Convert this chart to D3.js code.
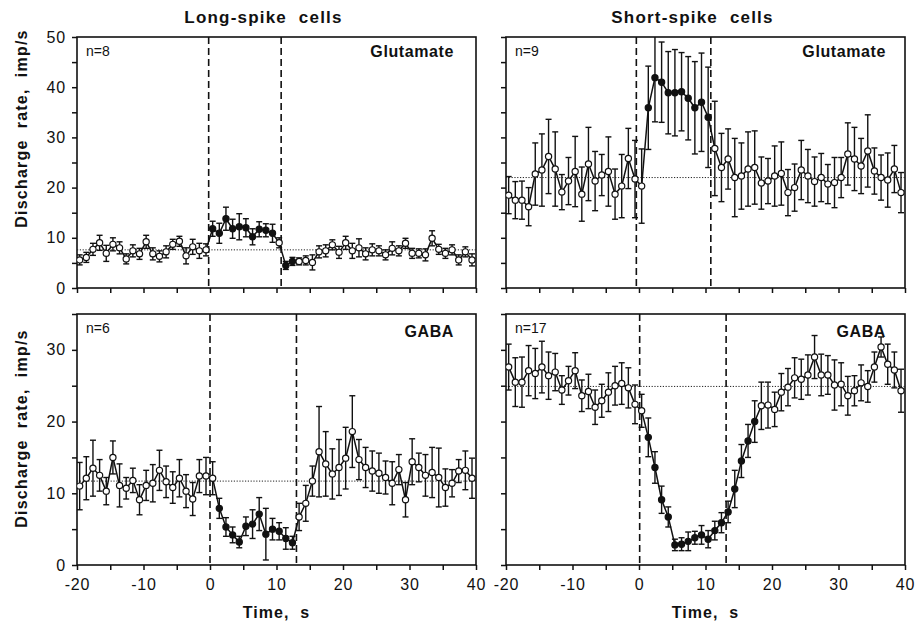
<!DOCTYPE html>
<html>
<head>
<meta charset="utf-8">
<script src="https://cdn.jsdelivr.net/npm/d3@7"></script>
<style>
  body { margin: 0; background: #fff; }
  svg text { font-family: "Liberation Sans", Arial, Helvetica, sans-serif; fill: #111; }
  .axis path, .axis line { stroke: #111; stroke-width: 1.5; }
  .axis text { font-size: 16px; letter-spacing: 0.8px; fill: #111; }
</style>
</head>
<body>
<div id="chart"></div>
<script>

// time bins (s), one per second
var timeBins = d3.range(-19.6, 40, 1)

// Long-spike cells, glutamate (n=8)
var lsGluMean = [5.6,6.1,7.7,9.0,6.9,8.7,8.0,5.8,7.4,6.8, 9.2,6.8,6.3,7.2,8.7,9.3,6.4,8.2,7.4,7.6,
  11.8,10.9,13.8,11.8,12.2,12.0,10.2,11.7,11.5,10.9, 9.0,4.5,5.3,5.3,5.5,5.1,7.2,7.4,8.6,7.1,
  9.0,7.4,8.0,6.8,7.6,7.4,6.6,7.9,7.4,8.9, 6.9,6.9,6.6,9.9,7.7,6.9,7.6,5.6,7.2,5.6]
var lsGluErr = [1.0,1.0,1.2,1.5,1.6,1.3,1.2,1.0,1.2,1.1, 1.3,1.2,1.1,1.2,1.0,1.0,1.6,1.5,1.5,1.2,
  1.5,2.0,2.3,1.9,2.6,1.8,1.6,1.5,1.3,1.8, 1.0,0.8,0.8,0.7,0.9,1.5,1.2,1.2,1.0,1.2,
  1.3,1.5,1.8,1.2,1.2,1.0,1.0,1.3,1.0,1.0, 1.0,0.9,1.2,1.5,1.0,1.0,1.0,1.0,1.0,1.2]
var lsGluFilled = [20,21,22,23,24,25,26,27,28,29,31,32]

// Short-spike cells, glutamate (n=9)
var ssGluMean = [18.5,17.5,17.5,16.2,22.7,23.5,26.2,23.7,19.1,21.3, 23.2,18.7,24.7,21.3,22.5,23.2,18.7,20.3,25.8,21.7,
  20.3,35.9,41.9,41.0,38.9,38.9,39.1,37.8,35.9,37.0, 34.0,27.8,24.0,25.7,22.0,22.3,23.7,24.0,20.9,21.3,
  22.3,22.8,19.0,20.0,23.5,22.3,21.2,22.0,20.7,21.0, 22.0,26.7,25.7,24.3,27.3,23.3,22.0,21.5,23.7,19.0]
var ssGluErr = [3.7,3.7,3.8,3.8,6.2,7.2,7.4,7.4,3.5,4.7, 7.0,5.4,7.3,5.9,4.1,6.9,5.0,6.3,6.0,7.7,
  7.4,8.3,8.8,8.0,8.2,8.6,7.8,8.3,9.2,9.8, 10.0,9.4,6.8,6.0,7.8,6.6,7.4,7.3,5.2,4.5,
  6.0,6.3,4.6,4.7,5.9,5.3,4.9,4.8,3.9,5.0, 4.0,6.2,6.3,5.5,7.2,4.6,4.5,5.4,4.7,4.0]
var ssGluFilled = [21,22,23,24,25,26,27,28,29,30]

// Long-spike cells, GABA (n=6)
var lsGabaMean = [11.0,12.1,13.5,12.5,10.3,15.0,11.1,10.7,11.8,9.1, 11.1,11.4,13.2,11.6,10.8,12.1,10.3,9.2,12.4,12.4,
  12.1,7.9,5.3,4.2,3.2,5.4,5.7,7.1,4.3,5.0, 4.7,3.7,3.1,6.7,8.6,11.7,15.8,14.1,12.7,13.6,
  14.9,18.6,14.7,13.6,13.1,12.8,12.2,11.4,13.3,9.1, 14.4,13.6,12.5,12.9,12.2,10.8,11.4,13.1,13.2,12.1]
var lsGabaErr = [3.3,3.0,3.9,2.2,1.9,2.3,3.0,1.5,1.7,2.1, 2.1,2.6,2.8,2.2,2.2,2.6,2.3,2.3,2.3,2.6,
  2.3,1.4,1.3,1.1,0.8,1.3,2.0,2.3,3.6,1.5, 1.2,1.5,0.9,1.9,2.5,2.1,6.3,4.5,3.5,3.9,
  4.3,5.0,2.8,2.8,2.8,2.8,2.3,3.0,2.1,2.4, 3.2,2.0,2.9,3.5,4.1,2.6,1.9,1.6,2.7,2.8]
var lsGabaFilled = [21,22,23,24,25,26,27,28,29,30,31,32]

// Short-spike cells, GABA (n=17)
var ssGabaMean = [27.6,25.5,25.5,27.1,26.7,27.6,26.4,26.9,24.4,25.7, 27.1,23.6,24.2,22.0,22.9,24.1,25.0,25.3,24.7,22.4,
  21.5,17.8,13.6,9.1,6.7,2.8,2.9,3.3,3.8,4.2, 3.6,4.8,5.9,7.4,10.6,14.5,17.3,20.0,22.2,22.3,
  21.7,24.1,24.8,26.1,25.9,26.5,29.0,26.5,26.5,25.1, 25.2,23.6,24.3,25.4,24.9,27.6,30.4,28.0,27.2,24.3]
var ssGabaErr = [3.2,3.4,3.5,3.5,3.5,3.6,3.3,2.6,2.0,2.0, 2.5,2.2,2.4,2.4,2.3,2.7,2.7,2.9,2.8,2.7,
  2.3,2.7,2.2,1.9,1.4,0.8,0.9,1.3,0.9,1.3, 1.2,1.3,1.4,1.5,2.6,2.3,2.3,2.9,3.3,3.2,
  2.4,2.6,2.6,2.8,2.8,2.8,3.0,2.9,2.7,3.5, 3.0,2.7,2.1,2.5,2.2,2.1,1.4,2.8,2.5,3.0]
var ssGabaFilled = [21,22,23,24,25,26,27,28,29,30,31,32,33,34,35,36,37]

// control level (dotted) and application onset/offset (dashed)
var baselines = [7.6, 22.0, 11.7, 24.9]
var stimLines = [[-0.2, 10.7], [-0.4, 10.8], [0, 13], [0.1, 13.1]]
var nLabels = ['n=8', 'n=9', 'n=6', 'n=17']
var drugLabels = ['Glutamate', 'Glutamate', 'GABA', 'GABA']
var columnTitles = ['Long-spike  cells', 'Short-spike  cells']
var yMaxes = [50, 35]

var svg = d3.select('#chart').append('svg')
  .attr('width', 920)
  .attr('height', 626)

var cols = [{ left: 77, width: 399 }, { left: 506, width: 399 }]
var rows = [{ top: 37, height: 251 }, { top: 314, height: 251 }]

var panels = [
  { col: 0, row: 0, mean: lsGluMean, err: lsGluErr, filled: lsGluFilled },
  { col: 1, row: 0, mean: ssGluMean, err: ssGluErr, filled: ssGluFilled },
  { col: 0, row: 1, mean: lsGabaMean, err: lsGabaErr, filled: lsGabaFilled },
  { col: 1, row: 1, mean: ssGabaMean, err: ssGabaErr, filled: ssGabaFilled }
]

panels.forEach(function (p, i) {
  var c = cols[p.col], r = rows[p.row]
  var g = svg.append('g')
    .attr('transform', 'translate(' + c.left + ',' + r.top + ')')

  var x = d3.scaleLinear().domain([-20, 40]).range([0, c.width])
  var y = d3.scaleLinear().domain([0, yMaxes[p.row]]).range([r.height, 0])

  var points = timeBins.map(function (t, k) {
    return { t: t, v: p.mean[k], e: p.err[k], filled: p.filled.indexOf(k) >= 0 }
  })

  g.append('clipPath').attr('id', 'clip' + i)
    .append('rect').attr('width', c.width).attr('height', r.height)

  // axes
  var xAxis = d3.axisBottom(x)
    .tickValues(d3.range(-20, 41, 5))
    .tickSize(5)
    .tickPadding(9)
    .tickFormat(function (d) { return (p.row === 1 && d % 10 === 0) ? String(d) : '' })
  g.append('g')
    .attr('class', 'axis x-axis')
    .attr('transform', 'translate(0,' + r.height + ')')
    .call(xAxis)

  var yAxis = d3.axisLeft(y)
    .tickValues(d3.range(0, yMaxes[p.row] + 1, 5))
    .tickSize(5)
    .tickPadding(6)
    .tickFormat(function (d) { return (p.col === 0 && d % 10 === 0) ? String(d) : '' })
  g.append('g')
    .attr('class', 'axis y-axis')
    .call(yAxis)

  g.selectAll('.axis .domain').remove()

  // frame
  g.append('rect')
    .attr('width', c.width)
    .attr('height', r.height)
    .attr('fill', 'none')
    .attr('stroke', '#111')
    .attr('stroke-width', 1.6)

  var inner = g.append('g').attr('clip-path', 'url(#clip' + i + ')')

  // control level
  inner.append('line')
    .attr('x1', 0).attr('x2', c.width)
    .attr('y1', y(baselines[i])).attr('y2', y(baselines[i]))
    .attr('stroke', '#222')
    .attr('stroke-width', 1)
    .attr('stroke-dasharray', '1.2,1.6')

  // application period
  inner.selectAll('.stim')
    .data(stimLines[i])
    .enter().append('line')
    .attr('class', 'stim')
    .attr('x1', function (d) { return x(d) })
    .attr('x2', function (d) { return x(d) })
    .attr('y1', 0).attr('y2', r.height)
    .attr('stroke', '#111')
    .attr('stroke-width', 1.6)
    .attr('stroke-dasharray', '7,4')

  // error bars
  var bars = inner.selectAll('.err')
    .data(points)
    .enter().append('g')
    .attr('class', 'err')
  bars.append('line')
    .attr('x1', function (d) { return x(d.t) })
    .attr('x2', function (d) { return x(d.t) })
    .attr('y1', function (d) { return y(d.v - d.e) })
    .attr('y2', function (d) { return y(d.v + d.e) })
    .attr('stroke', '#111').attr('stroke-width', 1.4)
  bars.selectAll('.cap')
    .data(function (d) { return [d.v - d.e, d.v + d.e].map(function (v) { return { t: d.t, v: v } }) })
    .enter().append('line')
    .attr('class', 'cap')
    .attr('x1', function (d) { return x(d.t) - 3 })
    .attr('x2', function (d) { return x(d.t) + 3 })
    .attr('y1', function (d) { return y(d.v) })
    .attr('y2', function (d) { return y(d.v) })
    .attr('stroke', '#111').attr('stroke-width', 1.4)

  // mean line
  var line = d3.line()
    .x(function (d) { return x(d.t) })
    .y(function (d) { return y(d.v) })
  inner.append('path')
    .datum(points)
    .attr('d', line)
    .attr('fill', 'none')
    .attr('stroke', '#111')
    .attr('stroke-width', 1.5)

  inner.selectAll('circle')
    .data(points)
    .enter().append('circle')
    .attr('cx', function (d) { return x(d.t) })
    .attr('cy', function (d) { return y(d.v) })
    .attr('r', 3.1)
    .attr('fill', function (d) { return d.filled ? '#111' : '#fff' })
    .attr('stroke', '#111')
    .attr('stroke-width', 1.2)

  // labels inside panel
  g.append('text')
    .attr('x', 9)
    .attr('y', 19)
    .style('font-size', '14px')
    .text(nLabels[i])

  g.append('text')
    .attr('x', c.width - (p.col === 0 ? 22 : 19))
    .attr('y', p.row === 0 ? 20 : 23)
    .attr('text-anchor', 'end')
    .style('font-size', '16px')
    .style('font-weight', 'bold')
    .style('letter-spacing', '0.6px')
    .text(drugLabels[i])

  if (p.col === 0) {
    svg.append('text')
      .attr('transform', 'translate(27,' + (r.top + r.height / 2 - (p.row === 0 ? 34 : 11)) + ') rotate(-90)')
      .attr('text-anchor', 'middle')
      .style('font-size', '16px')
      .style('font-weight', 'bold')
      .style('letter-spacing', '1.2px')
      .style('white-space', 'pre')
      .text('Discharge  rate,  imp/s')
  }

  if (p.row === 0) {
    svg.append('text')
      .attr('x', c.left + c.width / 2 - 13)
      .attr('y', 23)
      .attr('text-anchor', 'middle')
      .style('font-size', '17px')
      .style('font-weight', 'bold')
      .style('letter-spacing', '1.2px')
      .style('white-space', 'pre')
      .text(columnTitles[p.col])
  } else {
    svg.append('text')
      .attr('x', c.left + c.width / 2)
      .attr('y', 618)
      .attr('text-anchor', 'middle')
      .style('font-size', '16px')
      .style('font-weight', 'bold')
      .style('letter-spacing', '1px')
      .style('white-space', 'pre')
      .text('Time,  s')
  }
})

</script>
</body>
</html>
